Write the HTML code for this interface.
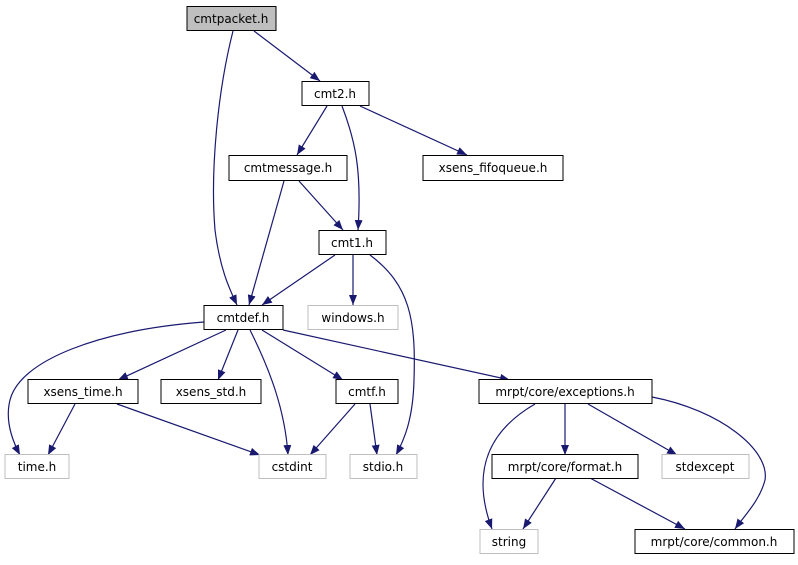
<!DOCTYPE html>
<html><head><meta charset="utf-8"><style>
html,body{margin:0;padding:0;background:#fff}
svg text{font-family:"DejaVu Sans","Liberation Sans",sans-serif;font-size:12px;fill:#000;text-anchor:middle}
</style></head><body>
<svg width="798" height="560" viewBox="0 0 798 560" xmlns="http://www.w3.org/2000/svg">
<defs><marker id="a" viewBox="0 0 10 8" refX="10" refY="4" markerWidth="10" markerHeight="8" markerUnits="userSpaceOnUse" orient="auto"><path d="M0,0L10,4L0,8z" fill="#191970"/></marker></defs>
<g fill="none" stroke="#191970" stroke-width="1.2" marker-end="url(#a)">
<path d="M233,31 C218,90 210,170 215,230 C220,270 230,290 237,305"/>
<path d="M254,31 L320,81"/>
<path d="M327,106 L297,155"/>
<path d="M342,106 C355,140 362,170 358,230"/>
<path d="M360,106 L467,155"/>
<path d="M284,181 L249,305"/>
<path d="M299,181 L343,230"/>
<path d="M335,255 L262,305"/>
<path d="M353,255 L353,305"/>
<path d="M370,255 C410,285 416,320 414,380 C413,420 404,440 396,455"/>
<path d="M204,322 C100,330 20,360 10,400 C5,420 12,440 20,455"/>
<path d="M226,330 L118,380"/>
<path d="M238,330 L218,380"/>
<path d="M250,330 C270,370 285,410 288,455"/>
<path d="M262,330 L343,380"/>
<path d="M283,330 L510,380"/>
<path d="M75,404 L48,455"/>
<path d="M117,404 L260,455"/>
<path d="M355,404 L310,455"/>
<path d="M370,404 L377,455"/>
<path d="M535,404 C490,430 470,470 492,529"/>
<path d="M565,404 L565,455"/>
<path d="M588,404 L677,455"/>
<path d="M652,397 C720,410 770,450 765,480 C760,500 745,515 735,529"/>
<path d="M556,478 L523,529"/>
<path d="M590,478 L685,529"/>
</g>
<g stroke-width="1">
<rect x="187" y="6.5" width="89" height="24" fill="#bfbfbf" stroke="#000"/>
<rect x="302" y="81.5" width="67" height="24" fill="#fff" stroke="#000"/>
<rect x="229" y="155.5" width="118" height="25" fill="#fff" stroke="#000"/>
<rect x="423" y="155.5" width="140" height="25" fill="#fff" stroke="#000"/>
<rect x="319" y="230.5" width="67" height="24" fill="#fff" stroke="#000"/>
<rect x="204" y="305.5" width="79" height="24" fill="#fff" stroke="#000"/>
<rect x="308" y="305.5" width="90" height="24" fill="#fff" stroke="#bfbfbf"/>
<rect x="28" y="379.5" width="110" height="24" fill="#fff" stroke="#000"/>
<rect x="161" y="379.5" width="100" height="24" fill="#fff" stroke="#000"/>
<rect x="336" y="379.5" width="62" height="24" fill="#fff" stroke="#000"/>
<rect x="479" y="379.5" width="173" height="24" fill="#fff" stroke="#000"/>
<rect x="5" y="454.5" width="64" height="24" fill="#fff" stroke="#bfbfbf"/>
<rect x="259" y="454.5" width="67" height="24" fill="#fff" stroke="#bfbfbf"/>
<rect x="350" y="454.5" width="67" height="24" fill="#fff" stroke="#bfbfbf"/>
<rect x="492" y="454.5" width="146" height="24" fill="#fff" stroke="#000"/>
<rect x="662" y="454.5" width="87" height="24" fill="#fff" stroke="#bfbfbf"/>
<rect x="480" y="529.5" width="58" height="24" fill="#fff" stroke="#bfbfbf"/>
<rect x="635" y="529.5" width="159" height="24" fill="#fff" stroke="#000"/>
</g>
<text x="231" y="23">cmtpacket.h</text>
<text x="335" y="98">cmt2.h</text>
<text x="288" y="172">cmtmessage.h</text>
<text x="493" y="172">xsens_fifoqueue.h</text>
<text x="352" y="247">cmt1.h</text>
<text x="243" y="322">cmtdef.h</text>
<text x="353" y="322">windows.h</text>
<text x="83" y="396">xsens_time.h</text>
<text x="211" y="396">xsens_std.h</text>
<text x="367" y="396">cmtf.h</text>
<text x="565" y="396">mrpt/core/exceptions.h</text>
<text x="37" y="471">time.h</text>
<text x="292" y="471">cstdint</text>
<text x="383" y="471">stdio.h</text>
<text x="565" y="471">mrpt/core/format.h</text>
<text x="705" y="471">stdexcept</text>
<text x="509" y="546">string</text>
<text x="714" y="546">mrpt/core/common.h</text>
</svg>
</body></html>
